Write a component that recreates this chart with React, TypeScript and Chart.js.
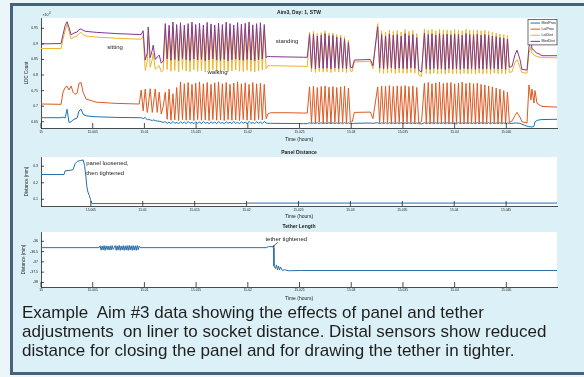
import React, { useEffect, useRef } from 'react';
import { Chart, registerables } from 'chart.js';

Chart.register(...registerables);

// ---------------- data ----------------
// Top panel: LDC counts of the four sensors vs time (hours)
const TIME_HOURS: number[] = [
  // sitting
  15.00000, 15.00194, 15.00213, 15.00233, 15.00252, 15.00271, 15.00291, 15.00310, 15.00329,
  15.00349, 15.00368, 15.00388, 15.00407, 15.00436, 15.00533, 15.00727, 15.00950,
  // transition
  15.00969, 15.00988, 15.01008, 15.01027, 15.01037, 15.01056, 15.01076, 15.01085, 15.01105,
  15.01124, 15.01143, 15.01163, 15.01182,
  // walking 1
  15.01202, 15.01220, 15.01239, 15.01257, 15.01276, 15.01294,
  15.01312, 15.01331, 15.01349, 15.01368, 15.01386, 15.01404,
  15.01423, 15.01441, 15.01460, 15.01478, 15.01496, 15.01515,
  15.01533, 15.01552, 15.01570, 15.01588, 15.01607, 15.01625,
  15.01644, 15.01662, 15.01680, 15.01699, 15.01717, 15.01736,
  15.01754, 15.01772, 15.01791, 15.01809, 15.01828, 15.01846,
  15.01864, 15.01883, 15.01901, 15.01920, 15.01938, 15.01956,
  15.01975, 15.01993, 15.02012, 15.02030, 15.02048, 15.02067,
  15.02085, 15.02104, 15.02122, 15.02140, 15.02159, 15.02177,
  // standing
  15.02195, 15.02220, 15.02380, 15.02540, 15.02575,
  // walking 2
  15.02597, 15.02616, 15.02635, 15.02654, 15.02672, 15.02691,
  15.02710, 15.02729, 15.02747, 15.02766, 15.02785, 15.02804,
  15.02823, 15.02842, 15.02860, 15.02879, 15.02898, 15.02917,
  15.02935, 15.02954, 15.02973, 15.02992,
  // pause
  15.03010, 15.03030, 15.03185, 15.03210,
  // walking 3
  15.03256, 15.03275, 15.03294, 15.03313, 15.03332, 15.03351,
  15.03369, 15.03388, 15.03407, 15.03426, 15.03445, 15.03464,
  15.03483, 15.03502, 15.03521, 15.03540, 15.03558, 15.03577,
  15.03596, 15.03615, 15.03634, 15.03653,
  15.03680,
  // walking 4
  15.03708, 15.03726, 15.03745, 15.03763, 15.03781, 15.03799,
  15.03818, 15.03836, 15.03854, 15.03872, 15.03891, 15.03909,
  15.03927, 15.03945, 15.03964, 15.03982, 15.04000, 15.04018,
  15.04037, 15.04055, 15.04073, 15.04091, 15.04110, 15.04128,
  15.04146, 15.04164, 15.04183, 15.04201, 15.04219, 15.04237,
  15.04256, 15.04274, 15.04292, 15.04310, 15.04329, 15.04347,
  15.04365, 15.04383, 15.04402, 15.04420, 15.04438, 15.04456,
  15.04475, 15.04493, 15.04511, 15.04529,
  // end
  15.04554, 15.04584, 15.04603, 15.04632, 15.04651, 15.04700, 15.04719, 15.04738, 15.04748,
  15.04767, 15.04777, 15.04796, 15.04816, 15.04845, 15.05000,
];

const MED_PROX: number[] = [
  6630, 6630, 6650, 6620, 6900, 6480, 6500, 6560, 6590, 6620, 6850, 6900, 6740, 6690, 6660, 6640, 6630,
  6630, 6600, 6640, 6560, 6580, 6560, 6540, 6560, 6540, 6520, 6520, 6500, 6480,
  6500, 6450, 6490, 6440, 6510, 6450,
  6480, 6440, 6500, 6450, 6490, 6440,
  6510, 6450, 6480, 6440, 6500, 6450,
  6490, 6440, 6510, 6450, 6480, 6440,
  6500, 6450, 6490, 6440, 6510, 6450,
  6480, 6440, 6500, 6450, 6490, 6440,
  6510, 6450, 6480, 6440, 6500, 6450,
  6490, 6440, 6510, 6450, 6480, 6440,
  6500, 6450, 6490, 6440, 6510, 6460,
  6450, 6450, 6445, 6440, 6440,
  6470, 6440, 6465, 6440, 6470, 6435,
  6470, 6440, 6465, 6440, 6470, 6435,
  6470, 6440, 6465, 6440, 6470, 6435,
  6470, 6440, 6465, 6440,
  6440, 6450, 6460, 6450,
  6470, 6440, 6465, 6440, 6470, 6435,
  6470, 6440, 6465, 6440, 6470, 6435,
  6470, 6440, 6465, 6440, 6470, 6435,
  6470, 6440, 6465, 6440,
  6430,
  6470, 6440, 6465, 6440, 6470, 6435,
  6470, 6440, 6465, 6440, 6470, 6435,
  6470, 6440, 6465, 6440, 6470, 6435,
  6470, 6440, 6465, 6440, 6470, 6435,
  6470, 6440, 6465, 6440, 6470, 6435,
  6470, 6440, 6465, 6440, 6470, 6435,
  6470, 6440, 6465, 6440, 6470, 6435,
  6470, 6440, 6465, 6440,
  6450, 6460, 6460, 6450, 6420, 6360, 6340, 6340, 6330, 6350, 6500, 6540, 6560, 6570, 6580,
];

const LAT_PROX: number[] = [
  7070, 7060, 7450, 7600, 7640, 7520, 7650, 7450, 7380, 7420, 7740, 7760, 7450, 7230, 7130, 7090, 7070,
  7520, 6850, 7550, 6800, 7000, 7560, 6800, 7000, 7550, 6800, 7450, 6750, 7000,
  7450, 6580, 7550, 6550, 7400, 6560,
  7600, 6540, 7780, 6570, 7720, 6550,
  7760, 6560, 7700, 6540, 7740, 6570,
  7780, 6550, 7720, 6560, 7760, 6540,
  7700, 6570, 7750, 6550, 7780, 6560,
  7720, 6540, 7760, 6570, 7700, 6550,
  7740, 6560, 7780, 6540, 7720, 6570,
  7750, 6550, 7700, 6560, 7760, 6540,
  7720, 6570, 7740, 6560, 7700, 6600,
  6750, 6790, 6790, 6780, 6780,
  7620, 6470, 7640, 6460, 7600, 6480,
  7630, 6460, 7650, 6470, 7610, 6460,
  7630, 6480, 7600, 6460, 7620, 6470,
  7640, 6460, 7580, 6480,
  6500, 6800, 6810, 6600,
  7620, 6470, 7650, 6460, 7640, 6470,
  7660, 6450, 7630, 6460, 7650, 6470,
  7640, 6450, 7660, 6460, 7630, 6470,
  7650, 6450, 7600, 6460,
  6500,
  7740, 6450, 7760, 6440, 7720, 6460,
  7750, 6440, 7770, 6450, 7730, 6440,
  7750, 6460, 7760, 6440, 7720, 6450,
  7740, 6440, 7770, 6460, 7730, 6440,
  7750, 6450, 7720, 6440, 7740, 6460,
  7700, 6440, 7680, 6450, 7650, 6440,
  7620, 6460, 7580, 6440, 7550, 6450,
  7500, 6440, 7450, 6480,
  6520, 6700, 6800, 6650, 6500, 6460, 7680, 7200, 7550, 7100, 7500, 7100, 7050, 6990, 6970,
];

const LAT_DIST: number[] = [
  8850, 8850, 9150, 9420, 9620, 9420, 9160, 9200, 9230, 9250, 9330, 9370, 9300, 9250, 9220, 9180, 9150,
  9150, 9250, 8150, 8420, 9250, 8250, 8500, 8700, 8180, 8250, 8300, 8100, 8150,
  9500, 8180, 9460, 8120, 9540, 8150,
  9480, 8100, 9520, 8170, 9450, 8130,
  9500, 8110, 9550, 8160, 9470, 8120,
  9500, 8140, 9460, 8100, 9540, 8130,
  9480, 8170, 9450, 8120, 9520, 8110,
  9470, 8150, 9550, 8100, 9500, 8130,
  9450, 8160, 9530, 8120, 9480, 8110,
  9510, 8150, 9550, 8120, 9460, 8100,
  9500, 8130, 9530, 8160, 9470, 8200,
  8300, 8300, 8290, 8280, 8270,
  9380, 8100, 9400, 8080, 9330, 8110,
  9360, 8090, 9420, 8100, 9340, 8080,
  9350, 8110, 9300, 8090, 9280, 8100,
  9230, 8080, 9120, 8120,
  8120, 8420, 8440, 8200,
  9650, 8070, 9420, 8050, 9380, 8060,
  9450, 8080, 9400, 8050, 9430, 8070,
  9380, 8060, 9460, 8050, 9400, 8080,
  9430, 8060, 9330, 8000,
  7950,
  9480, 8050, 9440, 8030, 9460, 8060,
  9420, 8040, 9470, 8050, 9440, 8030,
  9450, 8060, 9430, 8040, 9460, 8050,
  9440, 8030, 9420, 8060, 9470, 8040,
  9440, 8050, 9430, 8030, 9450, 8060,
  9420, 8040, 9440, 8050, 9400, 8030,
  9380, 8060, 9350, 8040, 9320, 8050,
  9300, 8030, 9270, 8080,
  8100, 8400, 8500, 8250, 8080, 8060, 8700, 8900, 8700, 8650, 8620, 8600, 8580, 8560, 8550,
];

const MED_DIST: number[] = [
  9000, 9010, 9300, 9580, 9710, 9530, 9290, 9330, 9360, 9380, 9460, 9480, 9430, 9400, 9370, 9330, 9300,
  9300, 9420, 8480, 8700, 9540, 8560, 8800, 8960, 8500, 8580, 8640, 8380, 8450,
  9650, 8520, 9600, 8480, 9700, 8500,
  9620, 8460, 9680, 8520, 9600, 8490,
  9650, 8470, 9700, 8510, 9620, 8480,
  9660, 8500, 9600, 8460, 9690, 8490,
  9640, 8520, 9600, 8480, 9670, 8470,
  9620, 8500, 9700, 8460, 9650, 8490,
  9600, 8510, 9680, 8480, 9630, 8470,
  9660, 8500, 9700, 8480, 9610, 8460,
  9650, 8490, 9680, 8510, 9620, 8560,
  8600, 8590, 8580, 8570, 8570,
  9300, 8220, 9320, 8200, 9250, 8230,
  9280, 8210, 9330, 8220, 9260, 8200,
  9270, 8230, 9220, 8210, 9200, 8220,
  9150, 8200, 9050, 8250,
  8230, 8480, 8500, 8300,
  9550, 8220, 9300, 8200, 9250, 8210,
  9320, 8230, 9280, 8200, 9300, 8220,
  9250, 8210, 9330, 8200, 9270, 8230,
  9300, 8210, 9200, 8150,
  8100,
  9350, 8200, 9300, 8180, 9320, 8210,
  9280, 8190, 9330, 8200, 9300, 8180,
  9310, 8210, 9290, 8190, 9320, 8200,
  9300, 8180, 9280, 8210, 9330, 8190,
  9300, 8200, 9290, 8180, 9310, 8210,
  9280, 8190, 9300, 8200, 9270, 8180,
  9250, 8210, 9230, 8190, 9200, 8200,
  9180, 8180, 9150, 8250,
  8270, 8650, 8800, 8500, 8180, 8160, 8900, 9100, 8850, 8800, 8750, 8700, 8680, 8620, 8620,
];

const SENSOR_NAMES = ['MedProx', 'LatProx', 'LatDist', 'MedDist'];

// Middle panel: panel distance (mm)
const PANEL_TIME: number[] = [
  15.00016, 15.00242, 15.00252, 15.00307, 15.00329, 15.00349, 15.00371, 15.00404, 15.00426, 15.00439,
  15.00453, 15.00462, 15.00472, 15.00485, 15.00497, 15.00511, 15.02000, 15.02010, 15.05000,
];
const PANEL_DIST: number[] = [
  0.25, 0.25, 0.272, 0.276, 0.28, 0.316, 0.33, 0.335, 0.338, 0.306,
  0.235, 0.175, 0.144, 0.124, 0.098, 0.074, 0.074, 0.077, 0.077,
];

// Bottom panel: tether length
const TETHER_TIME: number[] = [
  15.00000, 15.00562,
  15.00572, 15.00581, 15.00591, 15.00601, 15.00610, 15.00620, 15.00630, 15.00640, 15.00649, 15.00659,
  15.00669, 15.00678, 15.00688, 15.00698,
  15.00707,
  15.00717, 15.00727, 15.00736, 15.00746, 15.00756, 15.00766, 15.00775, 15.00785, 15.00795, 15.00804,
  15.00814, 15.00824, 15.00833, 15.00843, 15.00853, 15.00862, 15.00872, 15.00882, 15.00891, 15.00901,
  15.00911, 15.00921, 15.00930, 15.00940, 15.00950,
  15.00959, 15.02180, 15.02200, 15.02238, 15.02248, 15.02253, 15.02267, 15.02277, 15.02287, 15.02297,
  15.02306, 15.02316, 15.02335, 15.02355, 15.02393, 15.02510, 15.05000,
];
const TETHER_LEN: number[] = [
  -36.31, -36.31,
  -36.22, -36.43, -36.23, -36.42, -36.21, -36.44, -36.22, -36.41, -36.23, -36.43,
  -36.22, -36.42, -36.21, -36.40,
  -36.31,
  -36.21, -36.44, -36.22, -36.43, -36.20, -36.44, -36.23, -36.42, -36.21, -36.44,
  -36.22, -36.43, -36.21, -36.44, -36.20, -36.42, -36.22, -36.44, -36.21, -36.43,
  -36.22, -36.44, -36.21, -36.42, -36.23,
  -36.31, -36.31, -36.26, -36.26, -36.30, -37.20, -37.32, -37.15, -37.38, -37.20,
  -37.40, -37.25, -37.42, -37.38, -37.43, -37.42, -37.42,
];

// Tick values
const X_TICKS = [15, 15.005, 15.01, 15.015, 15.02, 15.025, 15.03, 15.035, 15.04, 15.045];
const PANEL_X_TICKS = [15.005, 15.01, 15.015, 15.02, 15.025, 15.03, 15.035, 15.04, 15.045];
const TOP_Y_TICKS = [6500, 7000, 7500, 8000, 8500, 9000, 9500];
const PANEL_Y_TICKS = [0.1, 0.2, 0.3];
const TETHER_Y_TICKS = [-38, -37.5, -37, -36.5, -36];

const TITLES = ['Aim3, Day: 1, STW', 'Panel Distance', 'Tether Length'];
const X_LABEL = 'Time (hours)';
const Y_LABELS = ['LDC Count', 'Distance (mm)', 'Distance (mm)'];
const CAPTION_LINES = [
  'Example  Aim #3 data showing the effects of panel and tether',
  'adjustments  on liner to socket distance. Distal sensors show reduced',
  'distance for closing the panel and for drawing the tether in tighter.',
];

// ---------------- styles ----------------
const FONT = "'Liberation Sans', Arial, Helvetica, sans-serif";
const INK = '#222222';
const SENSOR_COLORS = ['#1f73b7', '#dd5a23', '#ecb52c', '#83388f'];
const LINE_BLUE = '#2a6fa9';
const X_MIN = 15;
const X_MAX = 15.0499;

const pts = (xs: number[], ys: number[]) => xs.map((x, i) => ({ x, y: ys[i] }));
const fmtX = (v: number) => String(Math.round(v * 1000) / 1000);

// ---------------- plugins ----------------
const plotBg = {
  id: 'plotBg',
  beforeDraw(chart: any) {
    const { ctx, chartArea: a } = chart;
    ctx.save();
    ctx.fillStyle = '#ffffff';
    ctx.fillRect(a.left, a.top, a.right - a.left, a.bottom - a.top);
    ctx.restore();
  },
};

const inwardTicks = (xLen: number, yLen: number) => ({
  id: 'inwardTicks',
  afterDraw(chart: any) {
    const { ctx, chartArea: a, scales } = chart;
    ctx.save();
    ctx.strokeStyle = INK;
    ctx.lineWidth = 0.8;
    ctx.beginPath();
    scales.x.ticks.forEach((t: any) => {
      const p = scales.x.getPixelForValue(t.value);
      ctx.moveTo(p, a.bottom);
      ctx.lineTo(p, a.bottom - xLen);
    });
    scales.y.ticks.forEach((t: any) => {
      const p = scales.y.getPixelForValue(t.value);
      ctx.moveTo(a.left, p);
      ctx.lineTo(a.left + yLen, p);
    });
    ctx.stroke();
    ctx.restore();
  },
});

type Note = { text: string; x: number; y: number };
type Arrow = { x0: number; y0: number; x1: number; y1: number };

const notes = (items: Note[], arrows: Arrow[] = []) => ({
  id: 'notes',
  afterDatasetsDraw(chart: any) {
    const { ctx, scales } = chart;
    const sx = scales.x, sy = scales.y;
    ctx.save();
    ctx.fillStyle = INK;
    ctx.font = `6px ${FONT}`;
    ctx.textAlign = 'left';
    ctx.textBaseline = 'middle';
    items.forEach((n) => ctx.fillText(n.text, sx.getPixelForValue(n.x), sy.getPixelForValue(n.y)));
    arrows.forEach((ar) => {
      const x0 = sx.getPixelForValue(ar.x0), y0 = sy.getPixelForValue(ar.y0);
      const x1 = sx.getPixelForValue(ar.x1), y1 = sy.getPixelForValue(ar.y1);
      ctx.strokeStyle = INK;
      ctx.lineWidth = 0.7;
      ctx.beginPath();
      ctx.moveTo(x0, y0);
      ctx.lineTo(x1, y1);
      ctx.stroke();
      const ang = Math.atan2(y1 - y0, x1 - x0);
      ctx.beginPath();
      ctx.moveTo(x1, y1);
      ctx.lineTo(x1 - 2.2 * Math.cos(ang - 0.45), y1 - 2.2 * Math.sin(ang - 0.45));
      ctx.lineTo(x1 - 2.2 * Math.cos(ang + 0.45), y1 - 2.2 * Math.sin(ang + 0.45));
      ctx.closePath();
      ctx.fill();
    });
    ctx.restore();
  },
});

const boxLegend = {
  id: 'boxLegend',
  afterDatasetsDraw(chart: any) {
    const { ctx, chartArea: a } = chart;
    const ds = chart.data.datasets;
    const w = 29, rowH = 6.1, h = rowH * ds.length + 1;
    const x0 = a.right - w, y0 = a.top + 1.5;
    ctx.save();
    ctx.fillStyle = '#ffffff';
    ctx.fillRect(x0, y0, w, h);
    ctx.strokeStyle = '#333333';
    ctx.lineWidth = 0.7;
    ctx.strokeRect(x0, y0, w, h);
    ctx.font = `3.6px ${FONT}`;
    ctx.textAlign = 'left';
    ctx.textBaseline = 'middle';
    ds.forEach((d: any, i: number) => {
      const cy = y0 + 0.5 + rowH * (i + 0.5);
      ctx.strokeStyle = d.borderColor;
      ctx.lineWidth = 1;
      ctx.beginPath();
      ctx.moveTo(x0 + 2.5, cy);
      ctx.lineTo(x0 + 12, cy);
      ctx.stroke();
      ctx.fillStyle = INK;
      ctx.fillText(d.label, x0 + 13.5, cy);
    });
    ctx.restore();
  },
};

const exponentLabel = {
  id: 'exponentLabel',
  afterDraw(chart: any) {
    const { ctx, chartArea: a } = chart;
    ctx.save();
    ctx.fillStyle = INK;
    ctx.textAlign = 'left';
    ctx.textBaseline = 'alphabetic';
    ctx.font = `3.6px ${FONT}`;
    ctx.fillText('×10', a.left + 1.5, a.top - 2.5);
    const w = ctx.measureText('×10').width;
    ctx.font = `2.8px ${FONT}`;
    ctx.fillText('4', a.left + 1.8 + w, a.top - 4.2);
    ctx.restore();
  },
};

// ---------------- config builders ----------------
function buildOptions(o: {
  title: string;
  titlePad: { top: number; bottom: number };
  xMin: number;
  xTicks: number[];
  xHeight: number;
  xLabelPad: number;
  xTitlePad: number;
  yMin: number;
  yMax: number;
  yTicks: number[];
  yFmt: (v: number) => string;
  yTitle: string;
  yTitleX: number;
}): any {
  return {
    animation: false,
    responsive: false,
    events: [],
    layout: { padding: { left: 0, right: 27, top: 0, bottom: 0 } },
    elements: { point: { radius: 0 }, line: { borderWidth: 1, tension: 0 } },
    plugins: {
      legend: { display: false },
      tooltip: { enabled: false },
      title: {
        display: true,
        text: o.title,
        fullSize: false,
        color: INK,
        font: { family: FONT, size: 5, weight: 'bold' },
        padding: o.titlePad,
      },
    },
    scales: {
      x: {
        type: 'linear',
        bounds: 'data',
        min: o.xMin,
        max: X_MAX,
        afterBuildTicks: (s: any) => {
          s.ticks = o.xTicks.map((v) => ({ value: v }));
        },
        ticks: {
          autoSkip: false,
          maxRotation: 0,
          minRotation: 0,
          padding: o.xLabelPad,
          color: INK,
          font: { family: FONT, size: 3.3 },
          callback: (v: any) => fmtX(Number(v)),
        },
        grid: { display: false, drawTicks: false },
        border: { display: true, color: INK, width: 0.8 },
        title: {
          display: true,
          text: X_LABEL,
          color: INK,
          font: { family: FONT, size: 5 },
          padding: { top: 0, bottom: o.xTitlePad },
        },
        afterFit: (s: any) => {
          s.height = o.xHeight;
        },
      },
      y: {
        type: 'linear',
        bounds: 'data',
        min: o.yMin,
        max: o.yMax,
        afterBuildTicks: (s: any) => {
          s.ticks = o.yTicks.map((v) => ({ value: v }));
        },
        ticks: {
          autoSkip: false,
          padding: 3,
          color: INK,
          font: { family: FONT, size: 3.5 },
          callback: (v: any) => o.yFmt(Number(v)),
        },
        grid: { display: false, drawTicks: false },
        border: { display: true, color: INK, width: 0.8 },
        title: {
          display: true,
          text: o.yTitle,
          color: INK,
          font: { family: FONT, size: 4.5 },
          padding: { top: o.yTitleX - 2.7, bottom: 0 },
        },
        afterFit: (s: any) => {
          s.width = 41;
        },
      },
    },
  };
}

function topConfig(): any {
  const series = [MED_PROX, LAT_PROX, LAT_DIST, MED_DIST];
  return {
    type: 'line',
    data: {
      datasets: SENSOR_NAMES.map((name, i) => ({
        label: name,
        data: pts(TIME_HOURS, series[i]),
        borderColor: SENSOR_COLORS[i],
        backgroundColor: SENSOR_COLORS[i],
        borderWidth: 1,
        pointRadius: 0,
        order: 3 - i,
      })),
    },
    options: buildOptions({
      title: TITLES[0],
      titlePad: { top: 9.6, bottom: 2.4 },
      xMin: X_MIN,
      xTicks: X_TICKS,
      xHeight: 18,
      xLabelPad: 2.6,
      xTitlePad: 3,
      yMin: 6300,
      yMax: 9830,
      yTicks: TOP_Y_TICKS,
      yFmt: (v) => String(Math.round(v / 100) / 100),
      yTitle: Y_LABELS[0],
      yTitleX: 27,
    }),
    plugins: [
      plotBg,
      inwardTicks(5, 3),
      notes([
        { text: 'sitting', x: 15.0064, y: 8900 },
        { text: 'walking', x: 15.0161, y: 8075 },
        { text: 'standing', x: 15.0227, y: 9092 },
      ]),
      boxLegend,
      exponentLabel,
    ],
  };
}

function midConfig(): any {
  return {
    type: 'line',
    data: {
      datasets: [
        {
          label: 'Panel Distance',
          data: pts(PANEL_TIME, PANEL_DIST),
          borderColor: LINE_BLUE,
          borderWidth: 1,
          pointRadius: 0,
        },
      ],
    },
    options: buildOptions({
      title: TITLES[1],
      titlePad: { top: 5.3, bottom: 1.7 },
      xMin: 15.0002,
      xTicks: PANEL_X_TICKS,
      xHeight: 16,
      xLabelPad: 2.1,
      xTitlePad: 2.3,
      yMin: 0.0594,
      yMax: 0.356,
      yTicks: PANEL_Y_TICKS,
      yFmt: (v) => String(Math.round(v * 10) / 10),
      yTitle: Y_LABELS[1],
      yTitleX: 27,
    }),
    plugins: [
      plotBg,
      inwardTicks(5, 3),
      notes([
        { text: 'panel loosened,', x: 15.00455, y: 0.318 },
        { text: 'then tightened', x: 15.00455, y: 0.258 },
      ]),
    ],
  };
}

function botConfig(): any {
  return {
    type: 'line',
    data: {
      datasets: [
        {
          label: 'Tether Length',
          data: pts(TETHER_TIME, TETHER_LEN),
          borderColor: LINE_BLUE,
          borderWidth: 1,
          pointRadius: 0,
        },
      ],
    },
    options: buildOptions({
      title: TITLES[2],
      titlePad: { top: 3.7, bottom: 2.3 },
      xMin: X_MIN,
      xTicks: X_TICKS,
      xHeight: 18,
      xLabelPad: 1.6,
      xTitlePad: 3,
      yMin: -38.22,
      yMax: -35.55,
      yTicks: TETHER_Y_TICKS,
      yFmt: (v) => String(Math.round(v * 10) / 10),
      yTitle: Y_LABELS[2],
      yTitleX: 24,
    }),
    plugins: [
      plotBg,
      inwardTicks(5, 3),
      notes(
        [{ text: 'tether tightened', x: 15.0217, y: -35.9 }],
        [{ x0: 15.0229, y0: -36.05, x1: 15.0224, y1: -36.28 }],
      ),
    ],
  };
}

// ---------------- component ----------------
export default function App() {
  const topRef = useRef<HTMLCanvasElement>(null);
  const midRef = useRef<HTMLCanvasElement>(null);
  const botRef = useRef<HTMLCanvasElement>(null);

  useEffect(() => {
    const charts = [
      new Chart(topRef.current as HTMLCanvasElement, topConfig()),
      new Chart(midRef.current as HTMLCanvasElement, midConfig()),
      new Chart(botRef.current as HTMLCanvasElement, botConfig()),
    ];
    return () => charts.forEach((c) => c.destroy());
  }, []);

  const canvasStyle = (top: number, h: number): React.CSSProperties => ({
    position: 'absolute',
    left: 0,
    top,
    width: 584,
    height: h,
    display: 'block',
  });

  return (
    <div
      style={{
        position: 'fixed',
        left: 0,
        top: 0,
        width: 584,
        height: 377,
        overflow: 'hidden',
        background: '#eaf6fa',
      }}
    >
      <div
        style={{
          position: 'absolute',
          left: 10,
          top: 3,
          width: 600,
          height: 372,
          boxSizing: 'border-box',
          border: '3px solid #47627f',
          background: '#dcf1f7',
        }}
      />
      <canvas ref={topRef} width={584} height={146} style={canvasStyle(0, 146)} />
      <canvas ref={midRef} width={584} height={78} style={canvasStyle(144, 78)} />
      <canvas ref={botRef} width={584} height={85} style={canvasStyle(220, 85)} />
      <div
        style={{
          position: 'absolute',
          left: 22,
          top: 303,
          fontFamily: FONT,
          fontSize: 17,
          lineHeight: '19px',
          color: '#1e1e1e',
          whiteSpace: 'pre',
        }}
      >
        {CAPTION_LINES.map((l, i) => (
          <div key={i}>{l}</div>
        ))}
      </div>
    </div>
  );
}
